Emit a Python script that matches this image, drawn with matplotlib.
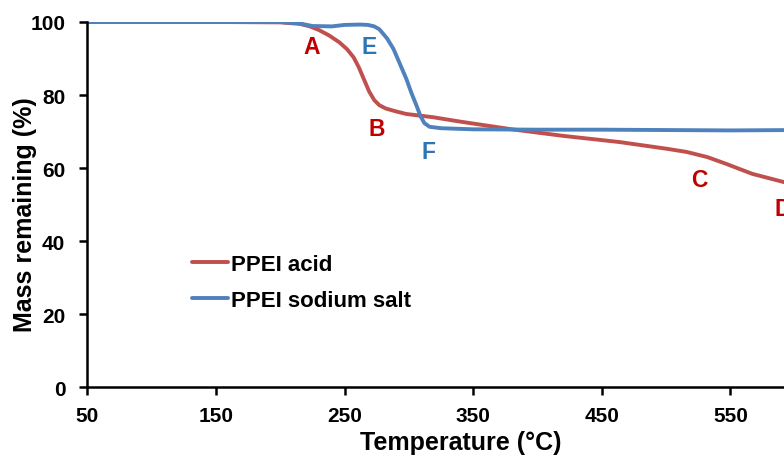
import matplotlib.pyplot as plt

plt.rcParams['font.family'] = ['Liberation Sans', 'DejaVu Sans']

# Temperature (°C) and mass remaining (%)
temp_acid = [50, 150, 200, 215, 223, 230, 238, 246, 252, 257, 261, 265, 269, 273, 277,
             282, 290, 298, 319, 340, 380, 420, 464, 500, 516, 532, 547, 567, 591, 620]
mass_acid = [100, 100, 99.9, 99.5, 98.8, 97.8, 96.3, 94.4, 92.5, 90.3, 87.6, 84.3, 81.0, 78.6, 77.2,
             76.3, 75.5, 74.8, 73.9, 72.7, 70.6, 68.8, 67.1, 65.3, 64.4, 63.0, 61.1, 58.4, 56.2, 53.0]

temp_salt = [50, 150, 200, 215, 225, 240, 250, 262, 268, 273, 277, 283, 288, 293, 298,
             302, 306, 309, 312, 316, 325, 350, 400, 450, 500, 550, 600, 650]
mass_salt = [100, 100, 100, 99.6, 98.9, 98.8, 99.2, 99.3, 99.2, 98.8, 98.0, 95.5, 92.6, 88.5, 84.4,
             80.5, 77.0, 74.2, 72.3, 71.3, 70.9, 70.6, 70.5, 70.5, 70.4, 70.3, 70.4, 70.4]

# point labels: (letter, x, y)
labels_acid = [('A', 224, 93.2), ('B', 275, 70.8), ('C', 526, 56.8), ('D', 591, 49.0)]
labels_salt = [('E', 269, 93.2), ('F', 315, 64.6)]

red_line = '#C0504D'
blue_line = '#4F81BD'
red_txt = '#C00000'
blue_txt = '#2E75B6'

fig = plt.figure(figsize=(7.84, 4.6), dpi=100)
ax = fig.add_axes([0.1116, 0.1565, 0.984, 0.7935])

ax.plot(temp_acid, mass_acid, color=red_line, lw=2.8, label='PPEI acid', solid_capstyle='round')
ax.plot(temp_salt, mass_salt, color=blue_line, lw=2.8, label='PPEI sodium salt', solid_capstyle='round')

for t, x, y in labels_acid:
    ax.text(x, y, t, color=red_txt, fontsize=16.5, fontweight='bold', ha='center', va='center')
for t, x, y in labels_salt:
    ax.text(x, y, t, color=blue_txt, fontsize=16.5, fontweight='bold', ha='center', va='center')

ax.set_xlim(50, 650)
ax.set_ylim(0, 100)
ax.set_xticks([50, 150, 250, 350, 450, 550])
ax.set_yticks([0, 20, 40, 60, 80, 100])

for s in ['top', 'right']:
    ax.spines[s].set_visible(False)
for s in ['left', 'bottom']:
    ax.spines[s].set_linewidth(1.8)
ax.tick_params(direction='out', length=6, width=1.8, labelsize=15)
ax.tick_params(axis='x', pad=8)
ax.tick_params(axis='y', pad=10)
for lab in ax.get_xticklabels() + ax.get_yticklabels():
    lab.set_fontweight('bold')

ax.set_xlabel('Temperature (°C)', fontsize=18, fontweight='bold')
ax.set_ylabel('Mass remaining (%)', fontsize=18, fontweight='bold')
ax.xaxis.set_label_coords(0.484, -0.118)
ax.yaxis.set_label_coords(-0.066, 0.474)

leg = ax.legend(loc='upper left', bbox_to_anchor=(0.124, 0.39), frameon=False,
                prop={'size': 16, 'weight': 'bold'}, handlelength=1.6, handletextpad=0.15,
                labelspacing=0.7, borderaxespad=0)

fig.savefig('out.png', dpi=100)
